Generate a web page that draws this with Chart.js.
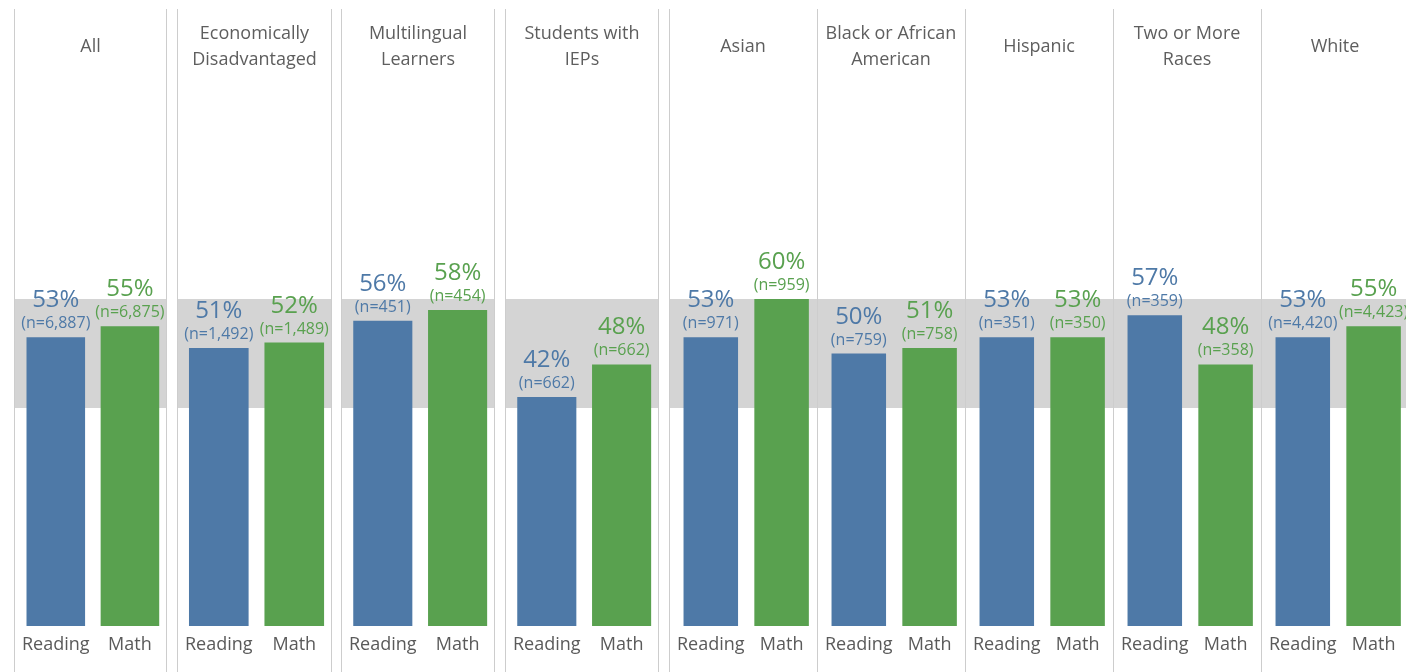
<!DOCTYPE html>
<html>
<head>
<meta charset="utf-8">
<script src="https://cdn.jsdelivr.net/npm/chart.js@4/dist/chart.umd.min.js"></script>
<style>
  html, body { margin: 0; padding: 0; background: #fff; width: 1406px; height: 672px; overflow: hidden; }
  canvas.panel { position: absolute; top: 9px; }
</style>
</head>
<body>
<script>
// Student groups (one panel each) and the two subjects shown in every panel
const groupTitles = [
  ['All'],
  ['Economically', 'Disadvantaged'],
  ['Multilingual', 'Learners'],
  ['Students with', 'IEPs'],
  ['Asian'],
  ['Black or African', 'American'],
  ['Hispanic'],
  ['Two or More', 'Races'],
  ['White']
];
const subjects = ['Reading', 'Math'];

// Percent of students per group and subject
const readingPct = [53, 51, 56, 42, 53, 50, 53, 57, 53];
const mathPct    = [55, 52, 58, 48, 60, 51, 53, 48, 55];

// Number of students tested
const readingN = ['6,887', '1,492', '451', '662', '971', '759', '351', '359', '4,420'];
const mathN    = ['6,875', '1,489', '454', '662', '959', '758', '350', '358', '4,423'];

// Reference band on the percent axis
const bandLow = 40;
const bandHigh = 60;

// Panel geometry
const panelLeft  = [14, 177, 341, 505, 669, 817, 965, 1113, 1261];
const panelWidth = [153, 155, 154, 154, 148, 148, 148, 148, 148];
const panelRightRule = [true, true, true, true, false, false, false, false, false];
const panelBarPct = [0.79, 0.79, 0.79, 0.79, 0.77, 0.77, 0.77, 0.77, 0.77];
const PANEL_H = 663;

const BLUE = '#4e79a7';
const GREEN = '#59a14f';
const FONT = '"Open Sans", "DejaVu Sans", sans-serif';

const bandPlugin = {
  id: 'band',
  beforeDatasetsDraw(chart) {
    const y = chart.scales.y;
    const top = y.getPixelForValue(bandHigh);
    const bottom = y.getPixelForValue(bandLow);
    const ctx = chart.ctx;
    ctx.save();
    ctx.fillStyle = '#d4d4d4';
    ctx.fillRect(0, top, chart.width, bottom - top);
    ctx.restore();
  }
};

const rulesPlugin = {
  id: 'rules',
  afterDraw(chart, args, opts) {
    const ctx = chart.ctx;
    ctx.save();
    ctx.strokeStyle = '#cdcdcd';
    ctx.lineWidth = 1;
    ctx.beginPath();
    ctx.moveTo(0.5, 0);
    ctx.lineTo(0.5, chart.height);
    if (opts.right) {
      ctx.moveTo(chart.width - 0.5, 0);
      ctx.lineTo(chart.width - 0.5, chart.height);
    }
    ctx.stroke();
    ctx.restore();
  }
};

const headerPlugin = {
  id: 'header',
  afterDraw(chart, args, opts) {
    const ctx = chart.ctx;
    const lines = opts.lines;
    ctx.save();
    ctx.fillStyle = '#5e5e5e';
    ctx.font = '18px ' + FONT;
    ctx.textAlign = 'center';
    ctx.textBaseline = 'alphabetic';
    const cx = chart.width / 2;
    const baselines = lines.length === 1 ? [43] : [30, 56];
    lines.forEach((t, i) => ctx.fillText(t, cx, baselines[i]));
    ctx.restore();
  }
};

const valueLabelPlugin = {
  id: 'valueLabels',
  afterDatasetsDraw(chart, args, opts) {
    const ctx = chart.ctx;
    const meta = chart.getDatasetMeta(0);
    const ds = chart.data.datasets[0];
    ctx.save();
    ctx.textAlign = 'center';
    ctx.textBaseline = 'alphabetic';
    meta.data.forEach((bar, i) => {
      ctx.fillStyle = ds.backgroundColor[i];
      ctx.font = '24px ' + FONT;
      ctx.fillText(ds.data[i] + '%', bar.x, bar.y - 30);
      ctx.font = '16px ' + FONT;
      ctx.fillText('(n=' + opts.counts[i] + ')', bar.x, bar.y - 9);
    });
    ctx.restore();
  }
};

groupTitles.forEach((title, g) => {
  const canvas = document.createElement('canvas');
  canvas.className = 'panel';
  canvas.width = panelWidth[g];
  canvas.height = PANEL_H;
  canvas.style.left = panelLeft[g] + 'px';
  canvas.style.width = panelWidth[g] + 'px';
  canvas.style.height = PANEL_H + 'px';
  document.body.appendChild(canvas);

  new Chart(canvas, {
    type: 'bar',
    data: {
      labels: subjects,
      datasets: [{
        data: [readingPct[g], mathPct[g]],
        backgroundColor: [BLUE, GREEN],
        borderWidth: 0,
        categoryPercentage: 1,
        barPercentage: panelBarPct[g]
      }]
    },
    options: {
      responsive: false,
      devicePixelRatio: 1,
      animation: false,
      layout: { padding: { top: 72, left: 0, right: 0, bottom: 0 } },
      plugins: {
        legend: { display: false },
        tooltip: { enabled: false },
        header: { lines: title },
        rules: { right: panelRightRule[g] },
        valueLabels: { counts: [readingN[g], mathN[g]] }
      },
      scales: {
        x: {
          grid: { display: false, drawTicks: false },
          border: { display: false },
          ticks: {
            color: '#5a5a5a',
            font: { family: FONT, size: 18 },
            padding: 8,
            maxRotation: 0,
            autoSkip: false
          },
          afterFit(axis) { axis.height = 46; }
        },
        y: {
          display: false,
          min: 0,
          max: 100
        }
      }
    },
    plugins: [bandPlugin, valueLabelPlugin, headerPlugin, rulesPlugin]
  });
});
</script>
</body>
</html>
